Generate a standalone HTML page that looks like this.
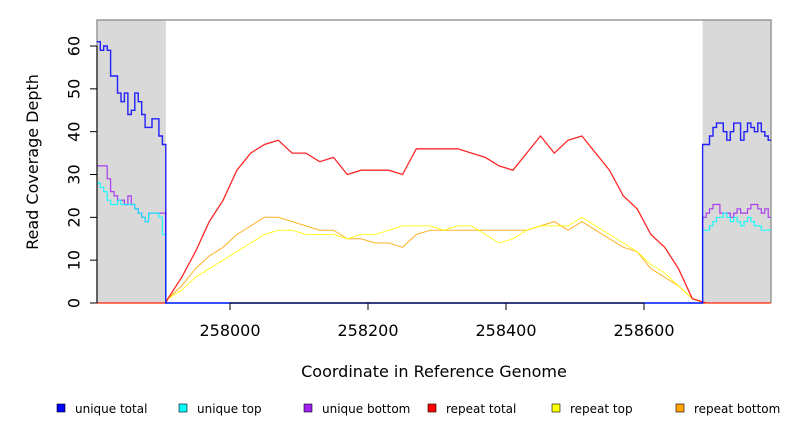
<!DOCTYPE html>
<html><head><meta charset="utf-8"><style>
body{margin:0;background:#fff}
svg{display:block;font-family:"DejaVu Sans","Liberation Sans",sans-serif}
</style></head><body>
<svg id="chart" width="792" height="432" viewBox="0 0 792 432">
<g id="plot"></g>
<g id="axes"></g>
<g id="legend"></g>
</svg>
<script>
const xTicks=[258000,258200,258400,258600];
const yTicks=[0,10,20,30,40,50,60];
const leftStart=257807, leftEnd=257907, rightStart=258685, rightEnd=258784;
const sideStep=5;
const uniqTotalLeft=[61,59,60,59,53,53,49,47,49,44,45,49,47,44,41,41,43,43,39,37];
const uniqBottomLeft=[32,32,32,29,26,25,24,24,23,25,23,22,21,20,19,21,21,21,21,21];
const uniqTopLeft=[28,27,26,24,23,23,24,23,23,23,23,22,21,20,19,21,21,21,20,16];
const uniqTotalRight=[37,37,39,41,42,42,40,38,40,42,42,38,40,42,41,40,42,40,39,38];
const uniqBottomRight=[20,21,22,23,23,21,21,21,20,21,22,21,21,22,23,23,22,21,22,20];
const uniqTopRight=[17,17,18,19,20,20,21,20,19,20,19,18,19,20,19,18,18,17,17,17];
const midStart=257910, midStep=20;
const repTotal=[1,6,12,19,24,31,35,37,38,35,35,33,34,30,31,31,31,30,36,36,36,36,35,34,32,31,35,39,35,38,39,35,31,25,22,16,13,8,1,0];
const repTop=[1,3,6,8,10,12,14,16,17,17,16,16,16,15,16,16,17,18,18,18,17,18,18,16,14,15,17,18,18,18,20,18,16,14,12,9,7,4,1,0];
const repBottom=[1,4,8,11,13,16,18,20,20,19,18,17,17,15,15,14,14,13,16,17,17,17,17,17,17,17,17,18,19,17,19,17,15,13,12,8,6,4,1,0];
const legendLabels=["unique total","unique top","unique bottom","repeat total","repeat top","repeat bottom"];
const legendColors=["#0000ff","#00ffff","#a020f0","#ff0000","#ffff00","#ffa500"];

const X0=97,X1=771,Y0=303,YT=20;
const xs=c=>230+(c-258000)*0.69;
const ys=v=>303-v*4.283;
const NS="http://www.w3.org/2000/svg";
function mk(tag,attrs,parent){const e=document.createElementNS(NS,tag);for(const k in attrs)e.setAttribute(k,attrs[k]);parent.appendChild(e);return e;}
const plot=document.getElementById('plot'),axes=document.getElementById('axes'),legend=document.getElementById('legend');

let r=mk('rect',{x:X0,y:YT,width:xs(leftEnd)-X0,height:Y0-YT,fill:'#d9d9d9'},plot);


r=mk('rect',{x:xs(rightStart),y:YT,width:X1-xs(rightStart),height:Y0-YT,fill:'#d9d9d9'},plot);


let b=mk('path',{d:`M${X0},${Y0}V${YT}H${X1}V${Y0}`,fill:'none',stroke:'#999',"stroke-width":1.5},plot);



function stepPath(pts){let d='';pts.forEach((p,i)=>{const x=xs(p[0]).toFixed(1),y=ys(p[1]).toFixed(1);if(i===0)d=`M${x},${y}`;else d+=`H${x}V${y}`;});return d;}
function linePath(pts){return pts.map((p,i)=>(i?'L':'M')+xs(p[0]).toFixed(1)+','+ys(p[1]).toFixed(1)).join('');}
function uniqPts(L,R){const pts=[];L.forEach((v,i)=>pts.push([leftStart+i*sideStep,v]));pts.push([leftEnd,L[L.length-1]]);pts.push([leftEnd,0]);pts.push([rightStart,0]);R.forEach((v,i)=>pts.push([rightStart+i*sideStep,v]));pts.push([rightEnd,R[R.length-1]]);return pts;}
function repPts(M){const pts=[[leftStart,0],[leftEnd,0]];M.forEach((v,i)=>pts.push([midStart+i*midStep,v]));pts.push([rightStart,0]);pts.push([rightEnd,0]);return pts;}
const series=[
 ['repeat-bottom-line',repPts(repBottom),legendColors[5],1,false],
 ['repeat-top-line',repPts(repTop),legendColors[4],1,false],
 ['repeat-total-line',repPts(repTotal),legendColors[3],1.3,false],
 ['unique-bottom-line',uniqPts(uniqBottomLeft,uniqBottomRight),legendColors[2],1.2,true],
 ['unique-top-line',uniqPts(uniqTopLeft,uniqTopRight),legendColors[1],1.2,true],
 ['unique-total-line',uniqPts(uniqTotalLeft,uniqTotalRight),legendColors[0],1.4,true]
];
series.forEach(s=>{const p=mk('path',{d:s[4]?stepPath(s[1]):linePath(s[1]),fill:'none',stroke:s[2],"stroke-width":s[3],opacity:0.85},plot);

});

let ax=mk('line',{x1:X0,y1:ys(yTicks[0]),x2:X0,y2:ys(yTicks[yTicks.length-1]),stroke:'#000'},axes);


yTicks.forEach(v=>{const y=ys(v);mk('line',{x1:X0-7,y1:y,x2:X0,y2:y,stroke:'#000'},axes);
const t=mk('text',{x:75,y:y,"font-size":16,"text-anchor":"middle",transform:`rotate(-90 75 ${y})`,"dominant-baseline":"middle"},axes);t.textContent=v;

});
ax=mk('line',{x1:xs(xTicks[0]),y1:Y0,x2:xs(xTicks[xTicks.length-1]),y2:Y0,stroke:'#000'},axes);


xTicks.forEach(c=>{const x=xs(c);mk('line',{x1:x,y1:Y0,x2:x,y2:Y0+7,stroke:'#000'},axes);
const t=mk('text',{x:x,y:336,"font-size":16,"text-anchor":"middle"},axes);t.textContent=c;

});
let t=mk('text',{x:434,y:377,"font-size":16,"text-anchor":"middle"},axes);t.textContent='Coordinate in Reference Genome';


t=mk('text',{x:38,y:162,"font-size":16,"text-anchor":"middle",transform:'rotate(-90 38 162)'},axes);t.textContent='Read Coverage Depth';



const lx=[61,183,308,432,556,680];
legendLabels.forEach((l,i)=>{const g=mk('g',{},legend);


mk('rect',{x:lx[i]-4,y:404,width:8,height:8,fill:legendColors[i],stroke:'#000',"stroke-width":0.6},g);
const tx=mk('text',{x:lx[i]+14,y:413,"font-size":12},g);tx.textContent=l;});
</script>
</body></html>
